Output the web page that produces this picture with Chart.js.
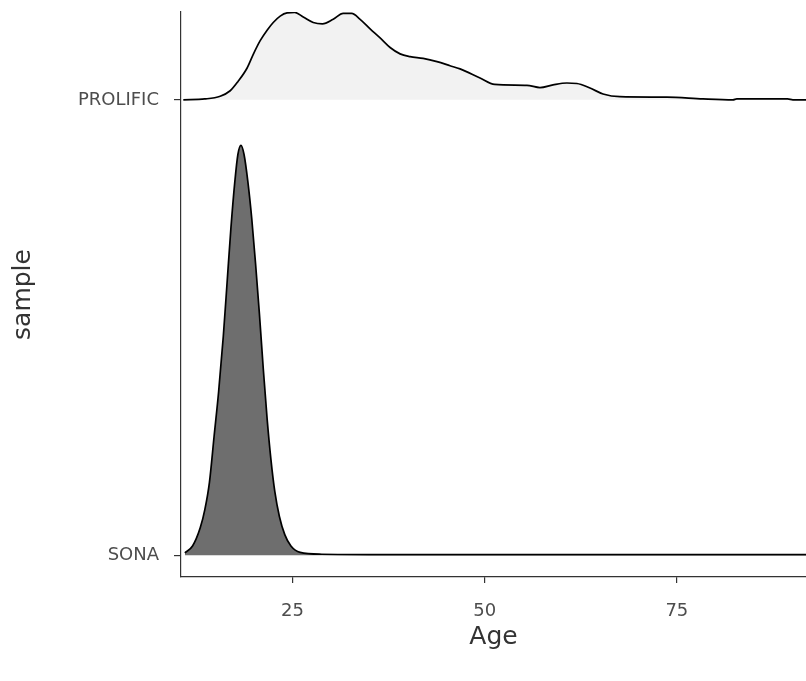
<!DOCTYPE html>
<html>
<head>
<meta charset="utf-8">
<script src="https://cdn.jsdelivr.net/npm/chart.js@4"></script>
<style>
  html, body { margin: 0; padding: 0; background: #ffffff; }
  #wrap { width: 806px; height: 681px; }
</style>
</head>
<body>
<div id="wrap"><canvas id="myChart" width="806" height="681"></canvas></div>
<script>
// categorias del eje y (de abajo hacia arriba)
const samples = ['SONA', 'PROLIFIC'];
const ageTicks = [25, 50, 75];

// densidad SONA (edad, altura sobre su linea base)
const sonaAge = [11.0, 12.0, 13.0, 13.6, 14.2, 14.8, 15.4, 16.0, 16.5, 17.0, 17.5, 17.9, 18.3, 18.7, 19.2, 19.7, 20.2, 20.7, 21.2, 21.7, 22.2, 22.7, 23.3, 24.0, 24.8, 26.0, 28.8, 40, 60, 80, 92];
const sonaDensity = [0.005, 0.02, 0.06, 0.1, 0.16, 0.26, 0.36, 0.48, 0.6, 0.72, 0.82, 0.88, 0.9, 0.88, 0.82, 0.74, 0.64, 0.53, 0.41, 0.3, 0.21, 0.14, 0.085, 0.045, 0.02, 0.006, 0.002, 0.001, 0.001, 0.001, 0.001];

// densidad PROLIFIC
const prolificAge = [10.8, 13.6, 15.6, 16.9, 17.9, 19.1, 19.9, 20.8, 21.7, 22.5, 23.4, 24.3, 25.3, 26.4, 27.7, 28.9, 30.3, 31.6, 32.7, 33.8, 35.1, 36.4, 37.7, 39.0, 40.3, 42.0, 43.8, 45.5, 46.8, 49.4, 51.3, 55.5, 57.2, 58.9, 60.7, 62.0, 63.7, 65.4, 67.6, 73.7, 78.4, 82.3, 82.8, 89.4, 90.1, 92];
const prolificDensity = [0, 0.002, 0.008, 0.02, 0.04, 0.07, 0.1, 0.13, 0.153, 0.17, 0.184, 0.191, 0.192, 0.182, 0.17, 0.167, 0.177, 0.19, 0.19, 0.177, 0.156, 0.136, 0.115, 0.101, 0.095, 0.091, 0.084, 0.075, 0.068, 0.048, 0.034, 0.032, 0.027, 0.033, 0.037, 0.036, 0.026, 0.013, 0.007, 0.006, 0.002, 0.0, 0.002, 0.002, 0.0, 0.0];

function puntos(ages, dens, base) {
  return ages.map((a, i) => ({ x: a, y: base + dens[i] }));
}

const cnv = document.getElementById('myChart');
const fuente = 'DejaVu Sans';

new Chart(cnv, {
  type: 'line',
  data: {
    datasets: [
      {
        label: 'PROLIFIC',
        data: puntos(prolificAge, prolificDensity, 2),
        borderColor: '#000000',
        borderWidth: 1.7,
        backgroundColor: '#f2f2f2',
        fill: { value: 2 },
        pointRadius: 0,
        cubicInterpolationMode: 'monotone'
      },
      {
        label: 'SONA',
        data: puntos(sonaAge, sonaDensity, 1),
        borderColor: '#000000',
        borderWidth: 1.7,
        backgroundColor: '#6e6e6e',
        fill: { value: 1 },
        pointRadius: 0,
        cubicInterpolationMode: 'monotone'
      }
    ]
  },
  options: {
    responsive: false,
    animation: false,
    layout: { padding: { top: 12, right: 0, left: 0, bottom: 0 } },
    plugins: { legend: { display: false }, tooltip: { enabled: false } },
    scales: {
      x: {
        type: 'linear',
        position: 'bottom',
        min: 10.5,
        max: 91.8,
        afterBuildTicks: (s) => { s.ticks = ageTicks.map(v => ({ value: v })); },
        afterFit: (s) => { s.height = 104; s.paddingLeft = 0; s.paddingRight = 0; },
        grid: { display: true, drawOnChartArea: false, drawTicks: true, tickLength: 6, color: '#333333', lineWidth: 1.2 },
        border: { display: true, color: '#333333', width: 1.2 },
        ticks: { color: '#4d4d4d', font: { family: fuente, size: 18 }, padding: 18, maxRotation: 0 },
        title: { display: true, text: 'Age', color: '#333333', font: { family: fuente, size: 25 }, padding: { top: 0, bottom: 29 } }
      },
      y: {
        type: 'linear',
        min: 0.952,
        max: 2.193,
        afterBuildTicks: (s) => { s.ticks = [{ value: 1 }, { value: 2 }]; },
        afterFit: (s) => { s.width = 181; s.paddingTop = 0; s.paddingBottom = 0; },
        grid: { display: true, drawOnChartArea: false, drawTicks: true, tickLength: 7, color: '#333333', lineWidth: 1.2 },
        border: { display: true, color: '#333333', width: 1.2 },
        ticks: {
          color: '#4d4d4d',
          font: { family: fuente, size: 18 },
          padding: 15,
          callback: (v) => samples[v - 1]
        },
        title: { display: true, text: 'sample', color: '#333333', font: { family: fuente, size: 25 }, padding: { top: 8, bottom: 0 } }
      }
    }
  }
});
</script>
</body>
</html>
